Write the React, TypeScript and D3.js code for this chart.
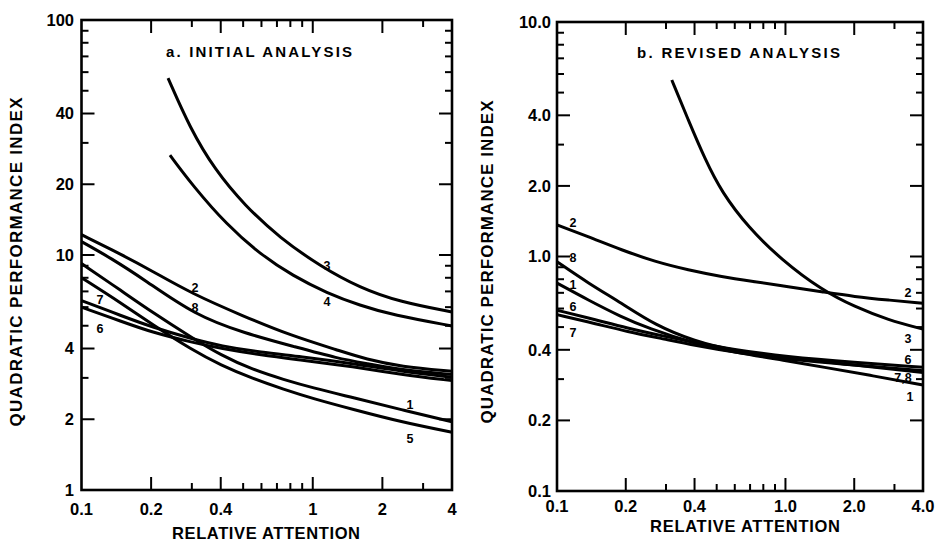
import React from 'react';
import * as d3 from 'd3';

type Pt = [number, number];
type Lbl = [string, number, number];

// ---------- shared x axis ----------
const xTickValues = [0.1, 0.2, 0.4, 1, 2, 4];
const initialXTickLabels = ['0.1', '0.2', '0.4', '1', '2', '4'];
const revisedXTickLabels = ['0.1', '0.2', '0.4', '1.0', '2.0', '4.0'];

// ---------- panel a: initial analysis ----------
const initialYTicks = [1, 2, 4, 10, 20, 40, 100];
const initialYTickLabels = ['1', '2', '4', '10', '20', '40', '100'];

const initial1: Pt[] = [[0.1, 9.2], [0.15, 7.0], [0.2, 5.75], [0.3, 4.45], [0.4, 3.75], [0.55, 3.25], [0.75, 2.95], [1.0, 2.72], [1.5, 2.47], [2.4, 2.2], [4, 1.95]];
const initial2: Pt[] = [[0.1, 12.2], [0.15, 10.0], [0.2, 8.6], [0.3, 6.85], [0.5, 5.5], [0.8, 4.55], [1.3, 3.92], [1.7, 3.6], [2.4, 3.35], [4, 3.2]];
const initial3: Pt[] = [[0.2367, 56.6], [0.2944, 34.7], [0.3777, 23.0], [0.5093, 16.2], [0.7215, 11.81], [1.074, 8.98], [1.6, 7.24], [2.382, 6.31], [4, 5.72]];
const initial4: Pt[] = [[0.2413, 26.6], [0.3035, 19.67], [0.4256, 13.42], [0.591, 10.1], [0.8212, 8.14], [1.152, 6.89], [1.6, 6.1], [2.222, 5.55], [4, 4.99]];
const initial5: Pt[] = [[0.1, 8.0], [0.15, 6.2], [0.2, 5.1], [0.3, 3.95], [0.4, 3.4], [0.55, 2.98], [0.75, 2.68], [1.0, 2.45], [1.5, 2.2], [2.4, 1.95], [4, 1.76]];
const initial6: Pt[] = [[0.1, 6.0], [0.15, 5.2], [0.2, 4.7], [0.3, 4.25], [0.4, 4.0], [0.6, 3.75], [0.88, 3.58], [1.5, 3.35], [2.4, 3.1], [4, 2.92]];
const initial7: Pt[] = [[0.1, 6.4], [0.15, 5.5], [0.2, 4.95], [0.3, 4.4], [0.4, 4.1], [0.6, 3.85], [0.88, 3.7], [1.5, 3.45], [2.4, 3.2], [4, 3.02]];
const initial8: Pt[] = [[0.1, 11.4], [0.1345, 9.68], [0.1877, 7.83], [0.3086, 5.55], [0.508, 4.64], [0.835, 4.07], [1.285, 3.63], [1.716, 3.45], [2.38, 3.25], [4, 3.1]];
const initialCurves = [initial1, initial2, initial3, initial4, initial5, initial6, initial7, initial8];

const initialLabels: Lbl[] = [
  ['3', 1.152, 8.98], ['4', 1.152, 6.31], ['2', 0.3095, 7.24], ['8', 0.3095, 5.95],
  ['7', 0.1202, 6.44], ['6', 0.1202, 4.89], ['1', 2.633, 2.3], ['5', 2.633, 1.664],
];

// ---------- panel b: revised analysis ----------
const revisedYTicks = [0.1, 0.2, 0.4, 1, 2, 4, 10];
const revisedYTickLabels = ['0.1', '0.2', '0.4', '1.0', '2.0', '4.0', '10.0'];

const revised1: Pt[] = [[0.1, 0.77], [0.137, 0.652], [0.19, 0.554], [0.251, 0.494], [0.4, 0.425], [0.6, 0.39], [1.0, 0.36], [1.45, 0.338], [2.42, 0.31], [4, 0.283]];
const revised2: Pt[] = [[0.1, 1.363], [0.137, 1.215], [0.192, 1.066], [0.2685, 0.95], [0.3755, 0.876], [0.526, 0.82], [0.735, 0.781], [1.029, 0.743], [1.44, 0.708], [2.01, 0.674], [2.82, 0.652], [4, 0.632]];
const revised3: Pt[] = [[0.318, 5.66], [0.3755, 3.82], [0.4444, 2.6], [0.526, 1.88], [0.688, 1.33], [0.963, 0.966], [1.44, 0.72], [2.01, 0.61], [2.82, 0.536], [4, 0.49]];
const revised6: Pt[] = [[0.1, 0.59], [0.15, 0.535], [0.2, 0.497], [0.3, 0.455], [0.4, 0.43], [0.6, 0.4], [1.0, 0.374], [2.0, 0.353], [4, 0.337]];
const revised7: Pt[] = [[0.1, 0.565], [0.15, 0.515], [0.2, 0.48], [0.3, 0.443], [0.4, 0.418], [0.6, 0.39], [1.0, 0.365], [2.0, 0.344], [4, 0.326]];
const revised8: Pt[] = [[0.1, 0.95], [0.137, 0.77], [0.192, 0.632], [0.2685, 0.51], [0.4, 0.435], [0.6, 0.395], [1.0, 0.37], [2.0, 0.345], [4, 0.32]];
const revisedCurves = [revised1, revised2, revised3, revised6, revised7, revised8];

const revisedLabels: Lbl[] = [
  ['2', 0.1175, 1.403], ['8', 0.1175, 0.995], ['1', 0.1175, 0.756], ['6', 0.1175, 0.615], ['7', 0.1175, 0.472],
  ['2', 3.44, 0.699], ['3', 3.44, 0.449], ['6', 3.44, 0.362], ['7,8', 3.27, 0.306], ['1', 3.51, 0.252],
];

const FONT = "'Liberation Sans', Arial, Helvetica, sans-serif";

interface PanelProps {
  left: number; right: number; top: number; bottom: number;
  yDomain: [number, number];
  yTicks: number[]; yTickLabels: string[];
  xTickLabels: string[];
  curves: Pt[][];
  labels: Lbl[];
  title: string; titleX: number; titleY: number; titleLen: number;
  yTitleX: number; yTitleY: number; yTitleLen: number;
  xTitleX: number; xTitleY: number; xTitleLen: number;
  xTickBaseline: number; yLabelRight: number;
}

function Panel(p: PanelProps) {
  const x = d3.scaleLog().domain([0.1, 4]).range([p.left, p.right]);
  const y = d3.scaleLog().domain(p.yDomain).range([p.bottom, p.top]);
  const line = d3.line<Pt>().x(d => x(d[0])).y(d => y(d[1])).curve(d3.curveBasis);
  const majorX = new Set([0.2, 0.4, 1, 2]);
  const majorY = new Set(p.yTicks.map(v => +v.toPrecision(3)));
  const xt = x.ticks().filter(v => v > 0.1 + 1e-9 && v < 4 - 1e-9);
  const yt = y.ticks().filter(v => v > p.yDomain[0] * 1.0001 && v < p.yDomain[1] * 0.9999);
  const LM = 13, Lm = 7;
  return (
    <g fontFamily={FONT} fontWeight="bold" fill="#000">
      {xt.map((v, i) => {
        const L = majorX.has(+v.toPrecision(3)) ? LM : Lm;
        return (
          <g key={'xt' + i} stroke="#000" strokeWidth={2}>
            <line x1={x(v)} x2={x(v)} y1={p.bottom} y2={p.bottom - L} />
            <line x1={x(v)} x2={x(v)} y1={p.top} y2={p.top + L} />
          </g>
        );
      })}
      {yt.map((v, i) => {
        const L = majorY.has(+v.toPrecision(3)) ? LM : Lm;
        return (
          <g key={'yt' + i} stroke="#000" strokeWidth={2}>
            <line x1={p.left} x2={p.left + L} y1={y(v)} y2={y(v)} />
            <line x1={p.right} x2={p.right - L} y1={y(v)} y2={y(v)} />
          </g>
        );
      })}
      <rect x={p.left} y={p.top} width={p.right - p.left} height={p.bottom - p.top} fill="none" stroke="#000" strokeWidth={2.6} />
      {p.curves.map((c, i) => (
        <path key={'c' + i} d={line(c) || ''} fill="none" stroke="#000" strokeWidth={3} strokeLinejoin="round" />
      ))}
      {p.labels.map((l, i) => (
        <text key={'l' + i} x={x(l[1])} y={y(l[2])} dy="0.36em" textAnchor="middle" fontSize={12.5}>{l[0]}</text>
      ))}
      {xTickValues.map((v, i) => (
        <text key={'xl' + i} x={x(v)} y={p.xTickBaseline} textAnchor="middle" fontSize={16.5}>{p.xTickLabels[i]}</text>
      ))}
      {p.yTicks.map((v, i) => (
        <text key={'yl' + i} x={p.yLabelRight} y={y(v)} dy="0.36em" textAnchor="end" fontSize={16.5}>{p.yTickLabels[i]}</text>
      ))}
      <text x={p.titleX} y={p.titleY} fontSize={15} textLength={p.titleLen} lengthAdjust="spacing">{p.title}</text>
      <text x={p.xTitleX} y={p.xTitleY} fontSize={16.5} textLength={p.xTitleLen} lengthAdjust="spacing">RELATIVE ATTENTION</text>
      <text transform={`translate(${p.yTitleX},${p.yTitleY}) rotate(-90)`} textAnchor="middle" dy="0.36em" fontSize={17}
        textLength={p.yTitleLen} lengthAdjust="spacing">QUADRATIC PERFORMANCE INDEX</text>
    </g>
  );
}

export default function App() {
  return (
    <svg width={937} height={541} style={{ position: 'absolute', left: 0, top: 0, background: '#fff' }}>
      <rect width={937} height={541} fill="#fff" />
      <Panel left={81.5} right={452} top={20} bottom={490} yDomain={[1, 100]}
        yTicks={initialYTicks} yTickLabels={initialYTickLabels} xTickLabels={initialXTickLabels}
        curves={initialCurves} labels={initialLabels}
        title="a. INITIAL ANALYSIS" titleX={166} titleY={57} titleLen={186}
        yTitleX={16} yTitleY={262} yTitleLen={329}
        xTitleX={172} xTitleY={539} xTitleLen={188}
        xTickBaseline={515} yLabelRight={74} />
      <Panel left={557} right={923} top={22} bottom={491} yDomain={[0.1, 10]}
        yTicks={revisedYTicks} yTickLabels={revisedYTickLabels} xTickLabels={revisedXTickLabels}
        curves={revisedCurves} labels={revisedLabels}
        title="b. REVISED ANALYSIS" titleX={637} titleY={58} titleLen={203}
        yTitleX={487} yTitleY={262} yTitleLen={323}
        xTitleX={650} xTitleY={532} xTitleLen={190}
        xTickBaseline={512} yLabelRight={551} />
    </svg>
  );
}
